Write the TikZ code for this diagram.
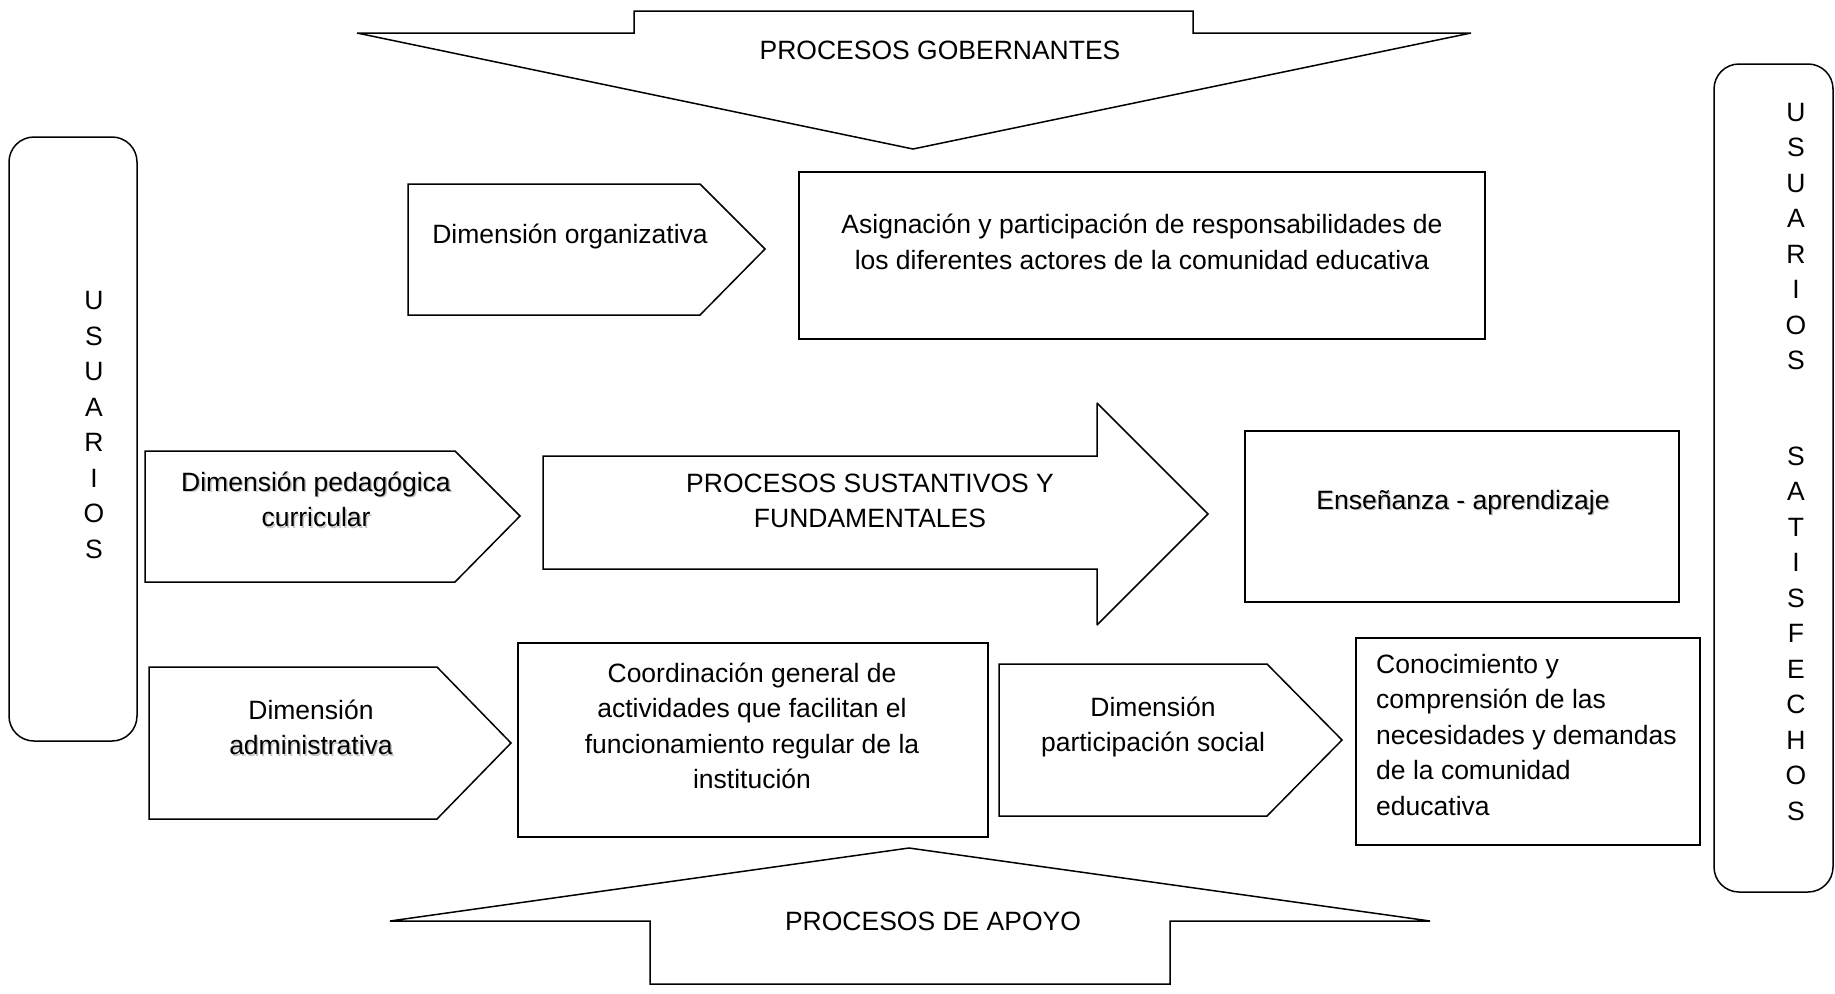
\documentclass[tikz,border=0pt]{standalone}
\usepackage{fontspec}
\setmainfont{Liberation Sans}
\usepackage{tikz}
\newcommand{\sombra}[1]{\makebox[0pt][l]{\hspace{1.5pt}\raisebox{-1.6pt}{\textcolor{black!22}{#1}}}#1}
\tikzset{
	txt/.style={font=\fontsize{26.5}{35.5}\selectfont, align=center, inner sep=0pt},
	forma/.style={draw=black, line width=1.5pt, line join=miter, miter limit=2}
}

\begin{document}
\begin{tikzpicture}[x=1pt,y=-1pt]
	\useasboundingbox (0,0) rectangle (1835,993);

	\draw[forma] (634,11) -- (1193,11) -- (1193,33) -- (1471,33) -- (913,149) -- (357,33) -- (634,33) -- cycle;
	\draw[forma] (909,848) -- (1430,921) -- (1170,921) -- (1170,984) -- (650,984) -- (650,921) -- (390,921) -- cycle;
	\draw[forma, rounded corners=25pt] (9,137) rectangle (137,741);
	\draw[forma, rounded corners=25pt] (1714,64) rectangle (1833,892);

	\draw[forma] (408,184) -- (700,184) -- (765,249) -- (700,315) -- (408,315) -- cycle;
	\draw[forma] (145,451) -- (455,451) -- (520,516) -- (455,582) -- (145,582) -- cycle;
	\draw[forma] (149,667) -- (437,667) -- (511,743) -- (437,819) -- (149,819) -- cycle;
	\draw[forma] (999,664) -- (1267,664) -- (1342,740) -- (1267,816) -- (999,816) -- cycle;
	\draw[forma] (543,456) -- (1097,456) -- (1097,403) -- (1208,514) -- (1097,625) -- (1097,569) -- (543,569) -- cycle;

	\draw[forma] (799,172) rectangle (1485,339);
	\draw[forma] (1245,431) rectangle (1679,602);
	\draw[forma] (518,643) rectangle (988,837);
	\draw[forma] (1356,638) rectangle (1700,845);

	\draw (940,50) node[txt](gob){PROCESOS GOBERNANTES};
	\draw (933,921) node[txt](apoyo){PROCESOS DE APOYO};
	\draw (94,425) node[txt](usu){U\\S\\U\\A\\R\\I\\O\\S};
	\draw (1796,462) node[txt](satis){U\\S\\U\\A\\R\\I\\O\\S\\[60pt]S\\A\\T\\I\\S\\F\\E\\C\\H\\O\\S};

	\draw (570,236) node[txt](org){Dimensión organizativa};
	\draw (1142,242) node[txt](asig){Asignación y participación de responsabilidades de\\los diferentes actores de la comunidad educativa};
	\draw (316,500) node[txt](ped){\sombra{Dimensión pedagógica}\\\sombra{curricular}};
	\draw (870,501) node[txt](sust){PROCESOS SUSTANTIVOS Y\\FUNDAMENTALES};
	\draw (1463,503) node[txt](ens){\sombra{Enseñanza - aprendizaje}};
	\draw (311,728) node[txt](adm){Dimensión\\\sombra{administrativa}};
	\draw (752,726) node[txt](coord){Coordinación general de\\actividades que facilitan el\\funcionamiento regular de la\\institución};
	\draw (1153,727) node[txt](part){Dimensión\\participación social};
	\draw (1376,735) node[txt, align=left, anchor=west](conoc){Conocimiento y\\comprensión de las\\necesidades y demandas\\de la comunidad\\educativa};
\end{tikzpicture}
\end{document}
